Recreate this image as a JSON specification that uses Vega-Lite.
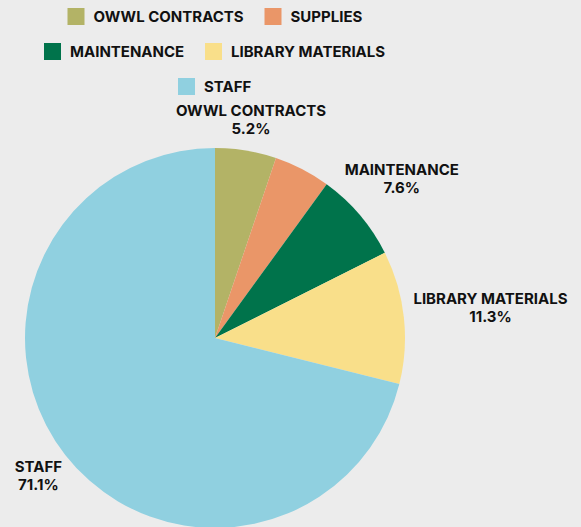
{
  "$schema": "https://vega.github.io/schema/vega-lite/v6.json",
  "width": 430,
  "height": 380,
  "autosize": {"type": "none"},
  "padding": {"left": 0, "top": 148, "right": 151, "bottom": 0},
  "background": "#ececec",
  "data": {
    "values": [
      {"category": "OWWL CONTRACTS", "share": 5.2},
      {"category": "SUPPLIES", "share": 4.8},
      {"category": "MAINTENANCE", "share": 7.6},
      {"category": "LIBRARY MATERIALS", "share": 11.3},
      {"category": "STAFF", "share": 71.1}
    ]
  },
  "transform": [
    {"stack": "share", "groupby": [], "as": ["s0", "s1"]}
  ],
  "layer": [
    {
      "transform": [{"filter": {"field": "category", "oneOf": ["OWWL CONTRACTS", "SUPPLIES"]}}],
      "mark": {"type": "arc", "outerRadius": 190},
      "encoding": {
        "theta": {"field": "s0", "type": "quantitative", "scale": {"domain": [0, 100]}},
        "theta2": {"field": "s1"},
        "color": {
          "field": "category",
          "type": "nominal",
          "scale": {"domain": ["OWWL CONTRACTS", "SUPPLIES"], "range": ["#b3b366", "#ea9668"]},
          "legend": {"title": null}
        }
      }
    },
    {
      "transform": [{"filter": {"field": "category", "oneOf": ["MAINTENANCE", "LIBRARY MATERIALS"]}}],
      "mark": {"type": "arc", "outerRadius": 190},
      "encoding": {
        "theta": {"field": "s0", "type": "quantitative"},
        "theta2": {"field": "s1"},
        "color": {
          "field": "category",
          "type": "nominal",
          "scale": {"domain": ["MAINTENANCE", "LIBRARY MATERIALS"], "range": ["#00734b", "#f9df8a"]},
          "legend": {"title": null}
        }
      }
    },
    {
      "transform": [{"filter": {"field": "category", "equal": "STAFF"}}],
      "mark": {"type": "arc", "outerRadius": 190},
      "encoding": {
        "theta": {"field": "s0", "type": "quantitative"},
        "theta2": {"field": "s1"},
        "color": {
          "field": "category",
          "type": "nominal",
          "scale": {"domain": ["STAFF"], "range": ["#90d0e0"]},
          "legend": {"title": null}
        }
      }
    },
    {
      "transform": [
        {"filter": "datum.category !== 'SUPPLIES'"},
        {"calculate": "(datum.s0 + datum.s1) / 2", "as": "mid"},
        {"calculate": "[datum.category, format(datum.share, '.1f') + '%']", "as": "label"}
      ],
      "mark": {
        "type": "text",
        "radius": {"expr": "198 + length(datum.category) * 4.6 * abs(sin(PI * datum.mid / 50)) + 13 * abs(cos(PI * datum.mid / 50))"},
        "dy": -9,
        "font": "Inter",
        "fontSize": 15,
        "fontWeight": "bold",
        "lineHeight": 18,
        "align": "center",
        "baseline": "middle",
        "color": "#111111"
      },
      "encoding": {
        "theta": {"field": "mid", "type": "quantitative"},
        "text": {"field": "label"}
      }
    }
  ],
  "resolve": {"scale": {"color": "independent"}, "legend": {"color": "independent"}},
  "config": {
    "view": {"stroke": null},
    "legend": {
      "orient": "top",
      "direction": "horizontal",
      "offset": 53,
      "symbolType": "square",
      "symbolSize": 289,
      "symbolStrokeWidth": 0,
      "symbolOpacity": 1,
      "labelFont": "Inter",
      "labelFontSize": 15,
      "labelFontWeight": "bold",
      "labelColor": "#111111",
      "labelOffset": 9,
      "labelLimit": 400,
      "columnPadding": 20,
      "layout": {"top": {"anchor": "middle", "direction": "vertical", "center": true, "margin": 18}}
    }
  }
}
